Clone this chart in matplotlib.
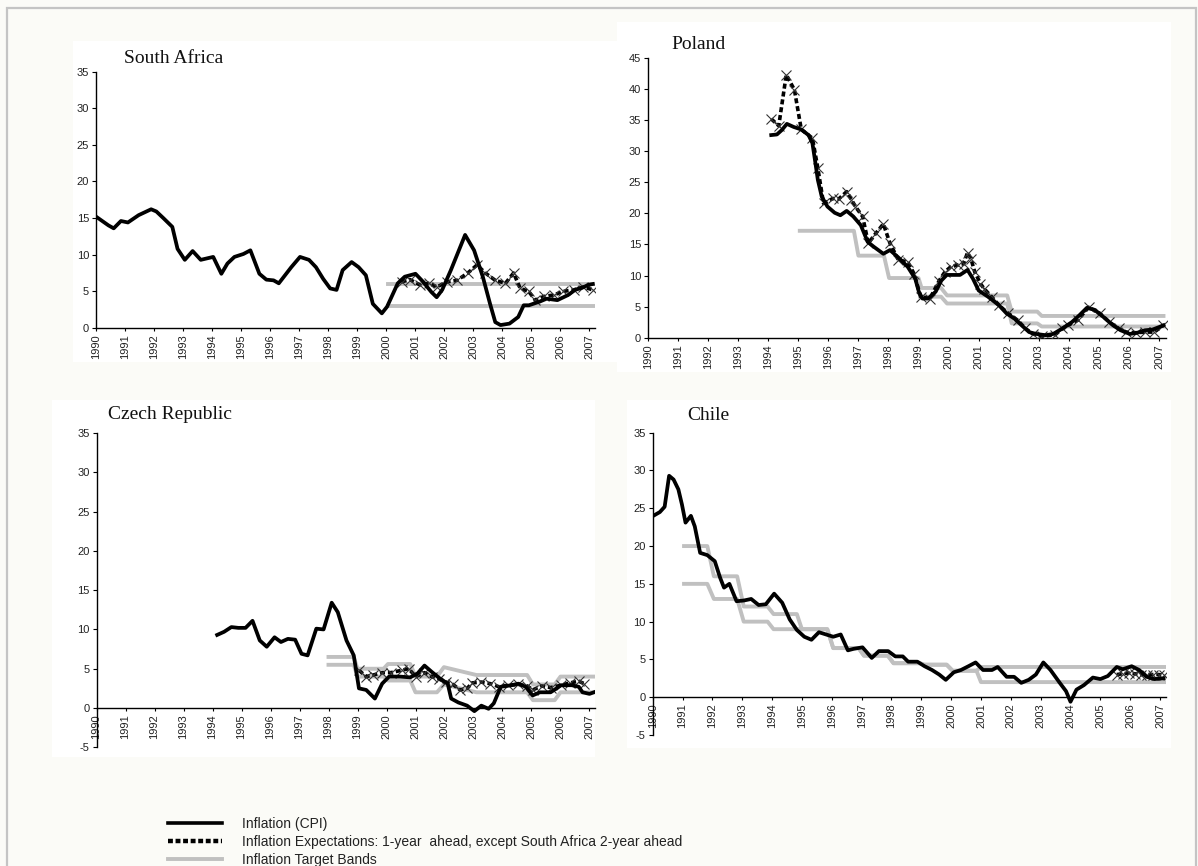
import matplotlib.pyplot as plt
from matplotlib.lines import Line2D
from matplotlib.patches import Rectangle

W, H = 1198, 866

# ---- South Africa ----
sa_cpi_x = [1990.0, 1990.43, 1990.61, 1990.86, 1991.10, 1991.47, 1991.90, 1992.08, 1992.32, 1992.63,
            1992.81, 1993.06, 1993.33, 1993.61, 1994.04, 1994.32, 1994.53, 1994.77, 1995.08, 1995.32,
            1995.63, 1995.87, 1996.12, 1996.30, 1996.73, 1997.03, 1997.34, 1997.58, 1997.83, 1998.07,
            1998.29, 1998.50, 1998.81, 1999.05, 1999.30, 1999.54, 1999.85, 2000.03, 2000.40, 2000.64,
            2001.01, 2001.25, 2001.56, 2001.74, 2001.93, 2002.23, 2002.72, 2003.03, 2003.33, 2003.58,
            2003.76, 2003.94, 2004.25, 2004.55, 2004.74, 2004.92, 2005.29, 2005.53, 2005.90, 2006.27,
            2006.51, 2006.76, 2006.98, 2007.12]
sa_cpi_y = [15.2, 14.0, 13.6, 14.6, 14.4, 15.4, 16.2, 15.9, 15.0, 13.8,
            10.8, 9.3, 10.5, 9.3, 9.7, 7.4, 8.8, 9.7, 10.1, 10.6,
            7.4, 6.6, 6.5, 6.1, 8.3, 9.7, 9.3, 8.3, 6.7, 5.4,
            5.2, 7.9, 9.0, 8.3, 7.2, 3.3, 2.0, 2.9, 6.1, 7.0,
            7.4, 6.4, 4.9, 4.2, 5.2, 7.9, 12.7, 10.6, 7.0, 3.3,
            0.8, 0.4, 0.6, 1.5, 3.1, 3.1, 3.6, 4.0, 3.8, 4.5,
            5.2, 5.5, 5.9, 6.0]
sa_exp_x = [2000.53, 2000.82, 2001.15, 2001.46, 2001.75, 2002.10, 2002.44, 2002.81, 2003.13, 2003.42,
            2003.76, 2004.11, 2004.39, 2004.62, 2004.91, 2005.14, 2005.43, 2005.77, 2006.11, 2006.46,
            2006.80, 2007.12]
sa_exp_y = [6.3, 6.6, 5.9, 6.1, 5.6, 6.3, 6.5, 7.5, 8.6, 7.5,
            6.5, 6.1, 7.5, 5.4, 5.0, 3.8, 4.3, 4.5, 5.0, 5.2,
            5.6, 5.2]
sa_band_x = [2000.07, 2007.15]
sa_band_hi = [6, 6]
sa_band_lo = [3, 3]

# ---- Poland ----
pl_cpi_x = [1994.10, 1994.29, 1994.45, 1994.62, 1994.85, 1995.10, 1995.34, 1995.47, 1995.57, 1995.65,
            1995.78, 1995.97, 1996.21, 1996.40, 1996.61, 1996.83, 1997.08, 1997.31, 1997.52, 1997.83,
            1998.05, 1998.33, 1998.64, 1998.89, 1999.01, 1999.13, 1999.32, 1999.57, 1999.76, 1999.94,
            2000.19, 2000.38, 2000.63, 2000.81, 2001.00, 2001.31, 2001.68, 2001.93, 2002.18, 2002.43,
            2002.68, 2002.92, 2003.23, 2003.48, 2003.79, 2004.10, 2004.35, 2004.60, 2004.85, 2005.16,
            2005.47, 2005.72, 2006.03, 2006.28, 2006.53, 2006.78, 2007.00, 2007.15]
pl_cpi_y = [32.6, 32.7, 33.4, 34.4, 33.9, 33.5, 32.6, 31.3, 28.1, 25.4,
            22.7, 21.1, 20.1, 19.7, 20.4, 19.5, 18.1, 15.4, 14.6, 13.5,
            14.1, 12.9, 11.4, 9.5, 7.4, 6.3, 6.3, 7.4, 9.2, 10.1,
            10.1, 10.1, 10.9, 9.5, 7.6, 6.6, 5.2, 3.9, 3.1, 2.0,
            0.9, 0.6, 0.4, 0.6, 1.5, 2.5, 3.6, 4.8, 4.5, 3.3,
            2.0, 1.2, 0.6, 0.8, 1.2, 1.3, 1.7, 2.0]
pl_exp_x = [1994.10, 1994.35, 1994.60, 1994.87, 1995.10, 1995.47, 1995.65, 1995.84, 1996.15, 1996.34,
            1996.61, 1996.77, 1996.90, 1997.14, 1997.33, 1997.58, 1997.83, 1998.05, 1998.33, 1998.64,
            1998.85, 1999.07, 1999.38, 1999.69, 1999.88, 2000.07, 2000.31, 2000.50, 2000.63, 2000.75,
            2000.87, 2001.06, 2001.18, 2001.43, 2001.68, 2001.99, 2002.30, 2002.55, 2002.80, 2003.11,
            2003.55, 2003.79, 2003.98, 2004.29, 2004.66, 2005.04, 2005.35, 2005.66, 2005.91, 2006.22,
            2006.53, 2006.84, 2007.15]
pl_exp_y = [35.2, 34.1, 42.3, 39.9, 33.5, 32.1, 27.3, 21.6, 22.4, 22.3,
            23.5, 22.2, 21.1, 19.5, 15.2, 16.8, 18.3, 15.2, 12.5, 12.2,
            10.3, 6.6, 6.3, 9.2, 10.6, 11.4, 11.7, 11.9, 13.7, 12.6,
            10.6, 8.7, 7.9, 6.6, 5.2, 3.9, 2.8, 1.5, 0.6, 0.2,
            0.5, 1.5, 2.0, 2.8, 4.9, 3.9, 2.5, 1.5, 0.9, 0.8,
            0.9, 0.9, 2.0]
pl_hi_x = [1995.05, 1996.85, 1997.0, 1997.85, 1998.02, 1999.0, 1999.1, 1999.75, 1999.95, 2001.95,
           2002.1, 2002.95, 2003.1, 2007.15]
pl_hi_y = [17.2, 17.2, 13.2, 13.2, 9.6, 9.6, 8.0, 8.0, 6.8, 6.8,
           4.2, 4.2, 3.5, 3.5]
pl_lo_x = [1999.05, 1999.75, 1999.95, 2001.95, 2002.1, 2002.95, 2003.1, 2007.15]
pl_lo_y = [6.6, 6.6, 5.5, 5.5, 2.3, 2.3, 1.8, 1.8]

# ---- Czech Republic ----
cz_cpi_x = [1994.16, 1994.40, 1994.65, 1994.89, 1995.14, 1995.38, 1995.63, 1995.87, 1996.14, 1996.36,
            1996.60, 1996.85, 1997.07, 1997.28, 1997.58, 1997.83, 1998.11, 1998.32, 1998.62, 1998.87,
            1999.05, 1999.30, 1999.60, 1999.85, 2000.09, 2000.46, 2000.82, 2001.07, 2001.31, 2001.56,
            2001.86, 2002.11, 2002.23, 2002.48, 2002.78, 2003.03, 2003.27, 2003.52, 2003.70, 2003.94,
            2004.31, 2004.55, 2004.80, 2005.04, 2005.29, 2005.66, 2006.02, 2006.39, 2006.63, 2006.76,
            2007.00, 2007.15]
cz_cpi_y = [9.3, 9.7, 10.3, 10.2, 10.2, 11.1, 8.6, 7.8, 9.0, 8.4,
            8.8, 8.7, 6.9, 6.7, 10.1, 10.0, 13.4, 12.2, 8.6, 6.7,
            2.5, 2.3, 1.2, 3.1, 4.0, 4.0, 3.9, 4.4, 5.4, 4.6,
            3.7, 3.1, 1.2, 0.7, 0.3, -0.4, 0.3, -0.1, 0.6, 2.7,
            2.9, 3.1, 2.7, 1.6, 2.0, 2.0, 2.9, 2.9, 2.7, 2.0,
            1.8, 2.0]
cz_exp_x = [1999.05, 1999.30, 1999.54, 1999.85, 2000.15, 2000.52, 2000.76, 2001.01, 2001.31, 2001.56,
            2001.80, 2002.05, 2002.29, 2002.54, 2002.78, 2002.96, 2003.27, 2003.58, 2003.88, 2004.19,
            2004.55, 2004.86, 2005.04, 2005.35, 2005.66, 2006.02, 2006.33, 2006.63, 2006.82]
cz_exp_y = [4.8, 4.0, 4.2, 4.5, 4.5, 4.8, 5.0, 4.0, 4.5, 4.0,
            3.7, 3.3, 3.0, 2.3, 2.5, 3.2, 3.3, 3.1, 2.7, 2.9,
            3.0, 2.8, 2.3, 2.8, 2.6, 2.9, 3.2, 3.4, 3.1]
cz_band_x = [1998.0, 1998.87, 1999.0, 1999.9, 2000.05, 2000.82, 2001.0, 2001.74, 2001.98, 2003.1,
             2004.85, 2005.05, 2005.8, 2006.0, 2007.15]
cz_hi_y = [6.5, 6.5, 5.0, 5.0, 5.6, 5.6, 4.0, 4.0, 5.2, 4.2,
           4.2, 3.0, 3.0, 4.0, 4.0]
cz_lo_y = [5.5, 5.5, 4.0, 4.0, 3.5, 3.5, 2.0, 2.0, 3.0, 2.0,
           2.0, 1.0, 1.0, 2.0, 2.0]

# ---- Chile ----
cl_cpi_x = [1990.02, 1990.24, 1990.40, 1990.55, 1990.70, 1990.86, 1990.98, 1991.10, 1991.28, 1991.41,
            1991.59, 1991.83, 1992.08, 1992.26, 1992.39, 1992.57, 1992.81, 1993.06, 1993.30, 1993.55,
            1993.79, 1994.07, 1994.34, 1994.59, 1994.83, 1995.08, 1995.32, 1995.57, 1995.81, 1996.05,
            1996.30, 1996.54, 1996.73, 1997.03, 1997.34, 1997.58, 1997.89, 1998.13, 1998.38, 1998.56,
            1998.87, 1999.11, 1999.36, 1999.60, 1999.82, 2000.09, 2000.33, 2000.58, 2000.82, 2001.07,
            2001.37, 2001.56, 2001.86, 2002.11, 2002.35, 2002.60, 2002.84, 2003.09, 2003.33, 2003.64,
            2003.85, 2004.0, 2004.20, 2004.45, 2004.75, 2005.0, 2005.25, 2005.55, 2005.75, 2006.05,
            2006.30, 2006.55, 2006.80, 2007.12]
cl_cpi_y = [24.0, 24.5, 25.2, 29.3, 28.8, 27.5, 25.5, 23.1, 24.0, 22.6,
            19.1, 18.8, 18.0, 15.8, 14.5, 15.0, 12.7, 12.8, 13.0, 12.2,
            12.3, 13.7, 12.5, 10.3, 8.9, 8.0, 7.6, 8.6, 8.3, 8.0,
            8.3, 6.2, 6.4, 6.6, 5.2, 6.1, 6.1, 5.4, 5.4, 4.7,
            4.7, 4.1, 3.6, 3.0, 2.3, 3.3, 3.6, 4.1, 4.6, 3.6,
            3.6, 4.0, 2.7, 2.7, 1.9, 2.3, 3.0, 4.6, 3.6, 1.9,
            0.8, -0.6, 1.0, 1.6, 2.6, 2.4, 2.8, 4.0, 3.7, 4.1,
            3.6, 2.7, 2.4, 2.5]
cl_exp_x = [2005.55, 2005.75, 2005.95, 2006.15, 2006.35, 2006.55, 2006.75, 2006.95, 2007.12]
cl_exp_y = [3.0, 3.1, 3.2, 3.1, 3.0, 3.0, 3.0, 3.0, 2.9]
cl_band_x = [1991.05, 1991.83, 1992.05, 1992.83, 1993.05, 1993.85, 1994.05, 1994.83, 1995.0, 1995.85,
             1996.05, 1996.9, 1997.08, 1997.88, 1998.07, 1998.95, 1999.1, 1999.85, 2000.05, 2000.85,
             2001.0, 2007.15]
cl_hi_y = [20, 20, 16, 16, 12, 12, 11, 11, 9, 9,
           6.5, 6.5, 5.5, 5.5, 4.5, 4.5, 4.3, 4.3, 3.5, 3.5,
           4, 4]
cl_lo_y = [15, 15, 13, 13, 10, 10, 9, 9, 9, 9,
           6.5, 6.5, 5.5, 5.5, 4.5, 4.5, 4.3, 4.3, 3.5, 3.5,
           2, 2]

years = list(range(1990, 2008))
legend_labels = ["Inflation (CPI)",
                 "Inflation Expectations: 1-year  ahead, except South Africa 2-year ahead",
                 "Inflation Target Bands"]

CPI_KW = dict(color="black", lw=2.7, solid_joinstyle="round", zorder=4)
EXP_KW = dict(color="black", lw=2.6, linestyle=(0, (1.4, 0.8)), marker="x", ms=7,
              mew=0.8, mec="#333333", zorder=3)
BAND_KW = dict(color="#c0c0c0", lw=2.8, zorder=2)
TICK_FONT = "Liberation Sans"
TITLE_FONT = "Liberation Serif"


def frac(l, t, r, b):
    return [l / W, 1 - b / H, (r - l) / W, (b - t) / H]


fig = plt.figure(figsize=(W / 100, H / 100), dpi=100, facecolor="#fbfbf7")

# white chart panels and outer frame, kept behind the axes
for (l, t, r, b) in [(73, 41, 617, 362), (617, 22, 1171, 372), (52, 400, 595, 757), (627, 400, 1171, 748)]:
    fig.patches.append(Rectangle((l / W, 1 - b / H), (r - l) / W, (b - t) / H,
                                 transform=fig.transFigure, facecolor="white", edgecolor="none", zorder=-2))
fig.patches.append(Rectangle((7 / W, -0.01), 1189 / W, 1 - 8 / H + 0.01, transform=fig.transFigure,
                             fill=False, edgecolor="#c4c4c4", lw=1.6, zorder=-1))


def setup(box, xmax, ylim, yticks, title, tpos, cross_zero=False):
    ax = fig.add_axes(frac(*box))
    ax.set_facecolor("none")
    # move the x axis to y=0 first: moving a spine resets the tick labels
    if cross_zero:
        ax.spines["bottom"].set_position(("data", 0))
    ax.set_xlim(1990, xmax)
    ax.set_ylim(*ylim)
    ax.set_xticks(years)
    ax.set_xticklabels([str(y) for y in years], rotation=90, fontsize=8,
                       family=TICK_FONT, color="#222222")
    ax.set_yticks(yticks)
    ax.set_yticklabels([str(v) for v in yticks], fontsize=8, family=TICK_FONT, color="#222222")
    for s in ["top", "right"]:
        ax.spines[s].set_visible(False)
    for s in ["left", "bottom"]:
        ax.spines[s].set_linewidth(1.0)
    ax.tick_params(axis="x", length=2.5, width=0.8, pad=2)
    ax.tick_params(axis="y", length=3, width=0.8, pad=2)
    fig.text(tpos[0] / W, 1 - tpos[1] / H, title, family=TITLE_FONT, fontsize=14,
             ha="left", va="baseline", color="#111111")
    return ax


ax_sa = setup((96, 71.5, 595.1, 328), 2007.2, (0, 35), range(0, 36, 5), "South Africa", (124, 63))
ax_sa.plot(sa_band_x, sa_band_hi, **BAND_KW)
ax_sa.plot(sa_band_x, sa_band_lo, **BAND_KW)
ax_sa.plot(sa_exp_x, sa_exp_y, **EXP_KW)
ax_sa.plot(sa_cpi_x, sa_cpi_y, **CPI_KW)

ax_pl = setup((648, 58, 1166.5, 337.7), 2007.25, (0, 45), range(0, 46, 5), "Poland", (671, 49))
ax_pl.plot(pl_hi_x, pl_hi_y, **BAND_KW)
ax_pl.plot(pl_lo_x, pl_lo_y, **BAND_KW)
ax_pl.plot(pl_exp_x, pl_exp_y, **EXP_KW)
ax_pl.plot(pl_cpi_x, pl_cpi_y, **CPI_KW)

ax_cz = setup((96.5, 433, 595.3, 747.3), 2007.2, (-5, 35), range(-5, 36, 5), "Czech Republic", (108, 419),
              cross_zero=True)
ax_cz.plot(cz_band_x, cz_hi_y, **BAND_KW)
ax_cz.plot(cz_band_x, cz_lo_y, **BAND_KW)
ax_cz.plot(cz_exp_x, cz_exp_y, **EXP_KW)
ax_cz.plot(cz_cpi_x, cz_cpi_y, **CPI_KW)

ax_cl = setup((652.7, 432.7, 1166, 735), 2007.2, (-5, 35), range(-5, 36, 5), "Chile", (687, 420),
              cross_zero=True)
ax_cl.plot(cl_band_x, cl_hi_y, **BAND_KW)
ax_cl.plot(cl_band_x, cl_lo_y, **BAND_KW)
ax_cl.plot(cl_exp_x, cl_exp_y, **EXP_KW)
ax_cl.plot(cl_cpi_x, cl_cpi_y, **CPI_KW)

handles = [Line2D([], [], color="black", lw=2.6),
           Line2D([], [], color="black", lw=3.2, linestyle=(0, (1.1, 0.6)), dash_capstyle="butt"),
           Line2D([], [], color="#c0c0c0", lw=2.8)]
fig.legend(handles, legend_labels, loc="upper left", bbox_to_anchor=(168 / W, 1 - 817 / H),
           frameon=False, prop={"family": TICK_FONT, "size": 10}, labelcolor="#222222",
           handlelength=3.9, handletextpad=1.45, labelspacing=0.3, borderpad=0, borderaxespad=0)

fig.savefig("out.png", dpi=100, facecolor=fig.get_facecolor())
